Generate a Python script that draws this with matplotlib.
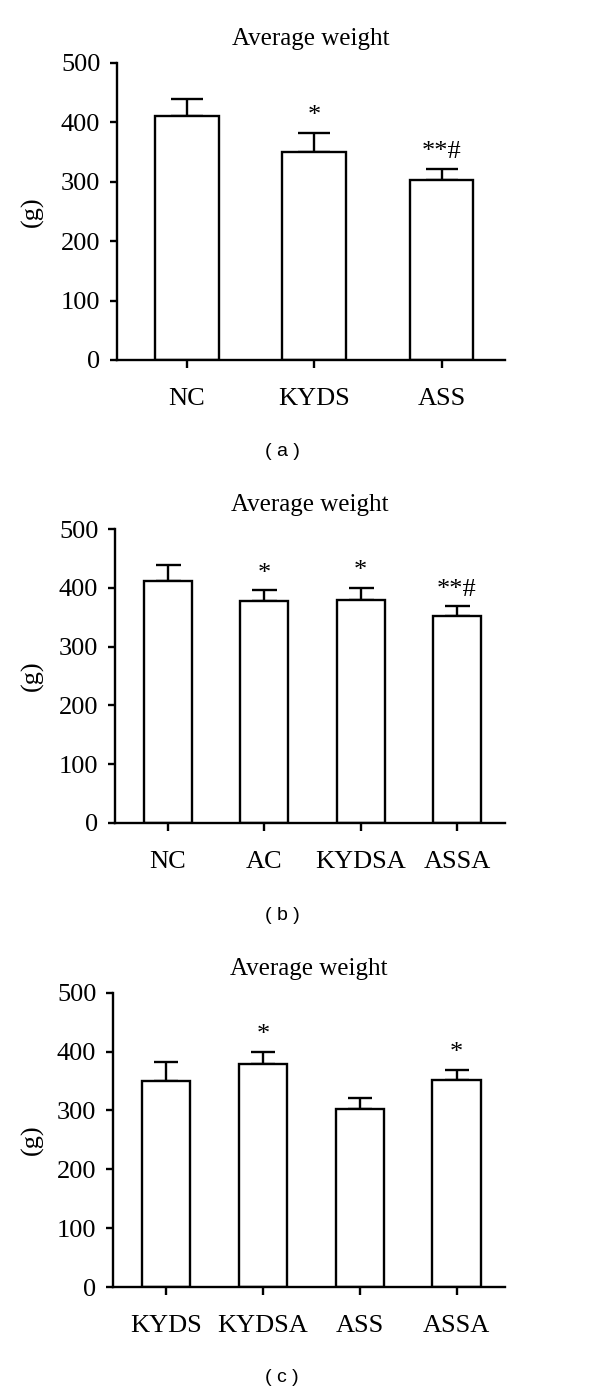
import matplotlib
matplotlib.use("Agg")
import matplotlib.pyplot as plt
import numpy as np

# values (mean and upper error, in g)
cats_a = ["NC", "KYDS", "ASS"]
mean_a = [411, 350, 303]
err_a = [28, 32, 19]
marks_a = ["", "*", "**#"]

cats_b = ["NC", "AC", "KYDSA", "ASSA"]
mean_b = [411, 377, 379, 352]
err_b = [28, 19, 21, 17]
marks_b = ["", "*", "*", "**#"]

cats_c = ["KYDS", "KYDSA", "ASS", "ASSA"]
mean_c = [350, 379, 303, 352]
err_c = [32, 21, 19, 17]
marks_c = ["", "*", "", "*"]

plt.rcParams["font.family"] = ["Liberation Serif", "DejaVu Serif"]

fig = plt.figure(figsize=(6, 13.93), dpi=100)

panels = [
    (cats_a, mean_a, err_a, marks_a, [0.195, 0.7416, 0.647, 0.2132], 11.5, -0.188, "( a )", 452),
    (cats_b, mean_b, err_b, marks_b, [0.1917, 0.4092, 0.65, 0.211], 9, -0.182, "( b )", 915),
    (cats_c, mean_c, err_c, marks_c, [0.1883, 0.0759, 0.6533, 0.2115], 8.7, -0.176, "( c )", 1378),
]

for cats, means, errs, marks, rect, cap, ylx, caption, cap_y in panels:
    ax = fig.add_axes(rect)
    x = np.arange(len(cats))
    ax.bar(x, means, width=0.5, color="white", edgecolor="black", linewidth=1.7, zorder=2)
    ax.errorbar(x, means, yerr=[np.zeros(len(errs)), errs], fmt="none", ecolor="black",
                elinewidth=1.7, capsize=cap, capthick=1.7, zorder=1)
    for xi, m, e, s in zip(x, means, errs, marks):
        if s:
            ax.annotate(s, (xi, m + e), xytext=(0, 4), textcoords="offset points",
                        ha="center", va="bottom", fontsize=19)
    ax.set_xlim(-0.55, len(cats) - 0.5)
    ax.set_ylim(0, 500)
    ax.set_yticks([0, 100, 200, 300, 400, 500])
    ax.set_xticks(x)
    ax.set_xticklabels(cats)
    ax.spines["top"].set_visible(False)
    ax.spines["right"].set_visible(False)
    ax.spines["left"].set_linewidth(1.7)
    ax.spines["bottom"].set_linewidth(1.7)
    ax.tick_params(axis="y", length=5, width=1.7, pad=7, labelsize=19)
    ax.tick_params(axis="x", length=6, width=1.7, pad=14, labelsize=19)
    ax.set_title("Average weight", fontsize=18, pad=13)
    ax.set_ylabel("(g)", fontsize=19)
    ax.yaxis.set_label_coords(ylx, 0.5)
    fig.text(282 / 600, 1 - cap_y / 1393, caption, ha="center", va="center",
             fontsize=14, family=["Liberation Sans", "DejaVu Sans"])

fig.savefig("out.png", dpi=100)
